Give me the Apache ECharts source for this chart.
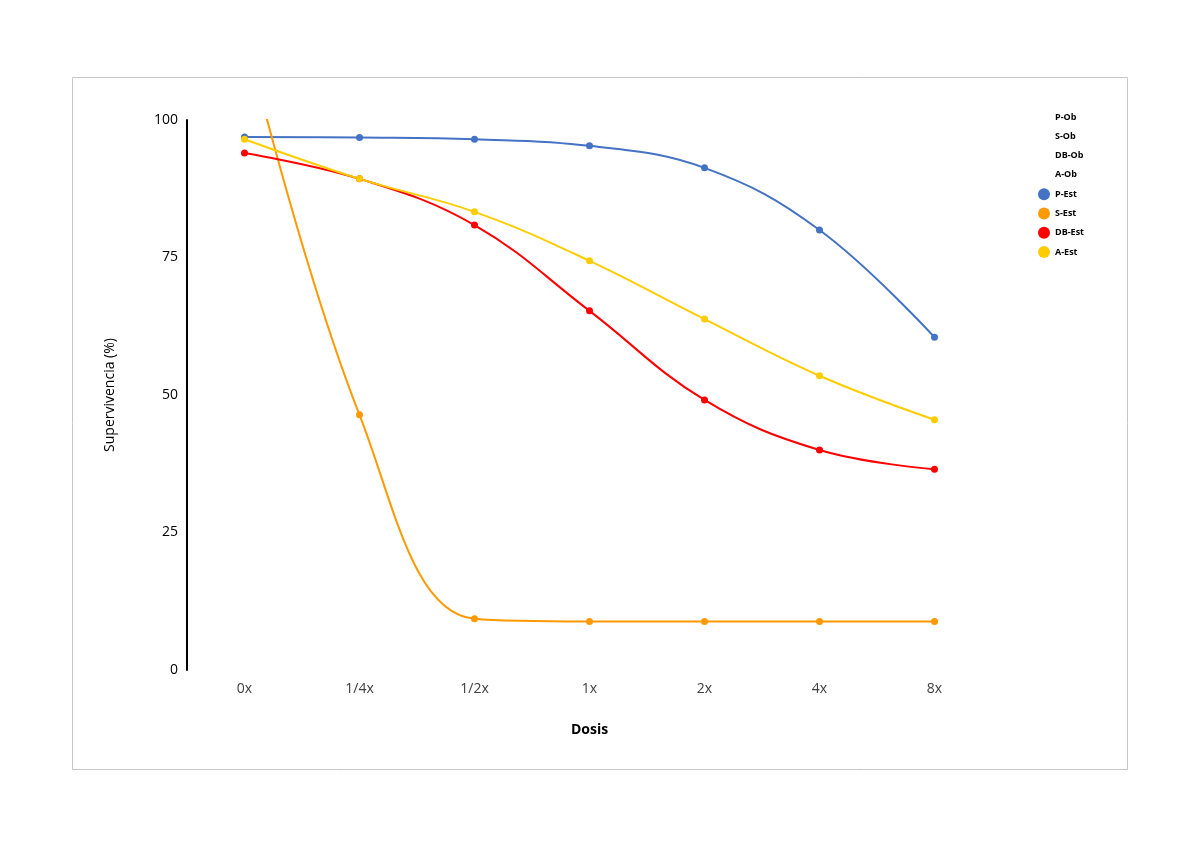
<!DOCTYPE html>
<html><head><meta charset="utf-8">
<script src="https://cdn.jsdelivr.net/npm/echarts@6/dist/echarts.min.js"></script>
<style>html,body{margin:0;padding:0;background:#fff}#c{width:1200px;height:848px}</style>
</head><body><div id="c"></div>
<script>
const categories = ['0x','1/4x','1/2x','1x','2x','4x','8x'];
const pEst = [96.9, 96.8, 96.5, 95.3, 91.3, 80.0, 60.5];
const sEst = [116, 46.4, 9.3, 8.8, 8.8, 8.8, 8.8];
const dbEst = [94.0, 89.3, 80.9, 65.3, 49.1, 40.0, 36.5];
const aEst = [96.5, 89.3, 83.3, 74.4, 63.8, 53.5, 45.5];
const yTicks = [0, 25, 50, 75, 100];
const obNames = ['P-Ob','S-Ob','DB-Ob','A-Ob'];
const estNames = ['P-Est','S-Est','DB-Est','A-Est'];
const colors = ['#4472C4','#FF9900','#FF0000','#FFCC00'];
const smooths = [0.4, 0.4, 0.4, 0.4];

const font = "'Open Sans', 'Liberation Sans', sans-serif";
const chart = echarts.init(document.getElementById('c'));
const estData = [pEst, sEst, dbEst, aEst];
const series = [];
obNames.forEach(n => series.push({name:n, type:'line', data:[], symbol:'none', itemStyle:{color:'rgba(0,0,0,0)'}}));
estNames.forEach((n,i) => series.push({
  name:n, type:'line', data:estData[i], smooth:smooths[i], symbol:'circle', symbolSize:7,
  clip:true,
  lineStyle:{width:2, color:colors[i]}, itemStyle:{color:colors[i]}
}));
chart.setOption({
  animation:false,
  textStyle:{fontFamily:font},
  graphic:[{type:'rect', shape:{x:72.5,y:77.5,width:1055,height:692}, style:{fill:'none', stroke:'#c8c8c8', lineWidth:1}, z:-1}],
  grid:{left:187, right:208, top:120, bottom:178},
  legend:{
    orient:'vertical', left:1033, top:106, itemGap:7.3, itemWidth:12, itemHeight:12,
    icon:'circle',
    textStyle:{fontSize:9, fontWeight:'bold', color:'#000', fontFamily:font},
    data:[
      ...obNames.map(n=>({name:n, itemStyle:{color:'rgba(0,0,0,0)', opacity:0}})),
      ...estNames.map(n=>({name:n}))
    ]
  },
  xAxis:{
    type:'category', data:categories, boundaryGap:true,
    name:'Dosis', nameLocation:'middle', nameGap:53,
    nameTextStyle:{fontSize:14, fontWeight:'bold', color:'#000', fontFamily:font},
    axisLine:{show:false}, axisTick:{show:false},
    axisLabel:{fontSize:14, color:'#404040', margin:12, fontFamily:font}
  },
  yAxis:{
    type:'value', min:0, max:100, interval:25,
    name:'Supervivencia (%)', nameLocation:'middle', nameGap:70,
    nameTextStyle:{fontSize:14, color:'#000', fontFamily:font},
    axisLine:{show:true, lineStyle:{color:'#000', width:2}},
    axisTick:{show:false}, splitLine:{show:false},
    axisLabel:{fontSize:14, color:'#000', fontWeight:500, margin:9, fontFamily:font,
      formatter:v=> yTicks.includes(v) ? String(v) : ''}
  },
  series
});
</script></body></html>
